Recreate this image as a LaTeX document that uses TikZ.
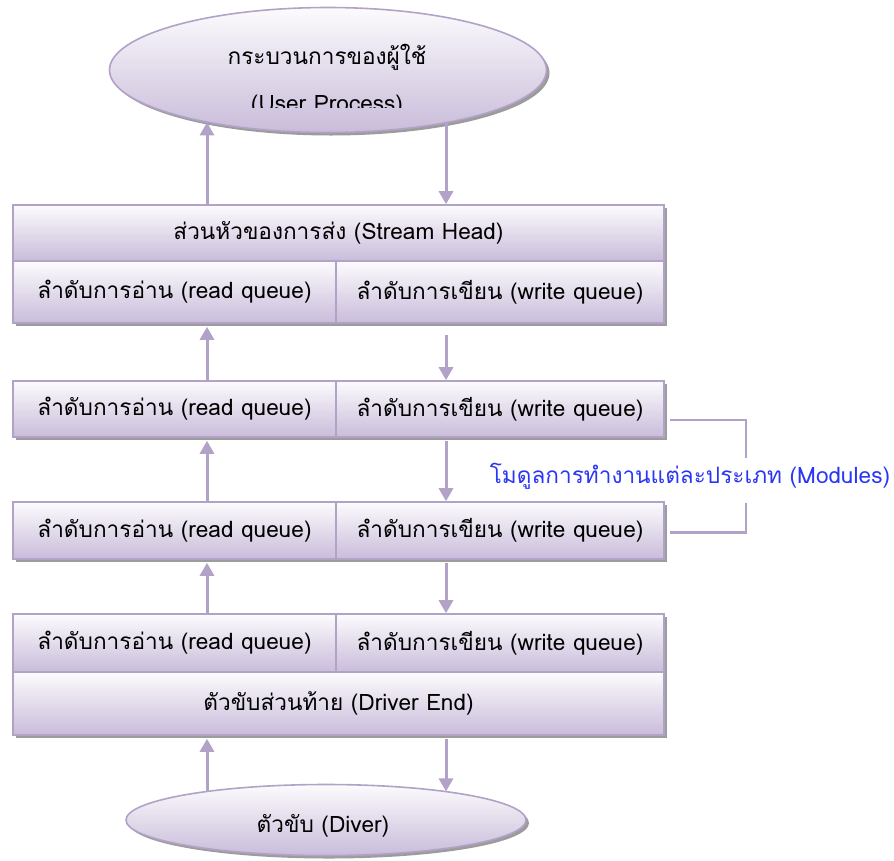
\documentclass[tikz,border=0pt]{standalone}
\usepackage{fontspec}
\usetikzlibrary{arrows.meta,shapes.geometric,shadows}
\newfontfamily\thaifont[Script=Thai]{Loma}

\definecolor{edgec}{HTML}{B3A2C7}
\definecolor{filltop}{HTML}{FCFBFD}
\definecolor{fillbot}{HTML}{C9BCDA}
\definecolor{shadowc}{HTML}{9C9C9C}
\definecolor{labelc}{HTML}{2A36F5}

\begin{document}
\begin{tikzpicture}[x=1pt,y=-1pt,
  txt/.style={font=\thaifont\fontsize{22.6}{26}\selectfont, text=black, inner sep=0pt},
  boxshadow/.style={drop shadow={shadow xshift=3pt, shadow yshift=-3pt, fill=shadowc, opacity=1}},
  cell/.style={rectangle, draw=edgec, line width=1.6pt, top color=filltop, bottom color=fillbot,
    inner sep=0pt, txt, boxshadow},
  blob/.style={ellipse, draw=edgec, line width=1.6pt, top color=filltop, bottom color=fillbot,
    inner sep=0pt, boxshadow},
  flow/.style={draw=edgec, line width=3pt, -{Triangle[length=13pt,width=14pt]}},
  bracketline/.style={draw=edgec, line width=2.4pt},
]
\useasboundingbox (0,0) rectangle (894,860);

% guide columns for the up (read) and down (write) connectors
\coordinate (ux) at (207,0);
\coordinate (dx) at (446,0);
% ends of the modules bracket around its label
\coordinate (bkup) at (746,458);
\coordinate (bkdn) at (746,503);

% user process
\node[blob, minimum width=437pt, minimum height=125pt] (user) at (328,70) {};
\node[txt] (userth) at (327,57) {กระบวนการของผู้ใช้};
\begin{scope}
  % the second line is cut off by the text frame of the shape
  \clip (100,0) rectangle (560,107);
  \node[txt, anchor=base] (useren) at (327,111) {(User Process)};
\end{scope}

% stream head
\node[cell, minimum width=651pt, minimum height=56pt] (sh) at (338.5,233) {ส่วนหัวของการส่ง (Stream Head)};
\node[cell, minimum width=323pt, minimum height=62pt] (shr) at (174.5,292) {ลำดับการอ่าน (read queue)};
\node[cell, minimum width=328pt, minimum height=62pt] (shw) at (500,292) {ลำดับการเขียน (write queue)};

% modules
\node[cell, minimum width=323pt, minimum height=56pt] (m1r) at (174.5,409) {ลำดับการอ่าน (read queue)};
\node[cell, minimum width=328pt, minimum height=56pt] (m1w) at (500,409) {ลำดับการเขียน (write queue)};
\node[cell, minimum width=323pt, minimum height=57pt] (m2r) at (174.5,530.5) {ลำดับการอ่าน (read queue)};
\node[cell, minimum width=328pt, minimum height=57pt] (m2w) at (500,530.5) {ลำดับการเขียน (write queue)};

% driver end
\node[cell, minimum width=323pt, minimum height=58pt] (der) at (174.5,643) {ลำดับการอ่าน (read queue)};
\node[cell, minimum width=328pt, minimum height=58pt] (dew) at (500,643) {ลำดับการเขียน (write queue)};
\node[cell, minimum width=651pt, minimum height=63pt] (de) at (338.5,703.5) {ตัวขับส่วนท้าย (Driver End)};

% driver
\node[blob, minimum width=400pt, minimum height=71pt] (drv) at (326,820) {};
\node[txt] (drvtxt) at (323,826) {ตัวขับ (Diver)};

% read direction (upwards)
\draw[flow] (sh.north -| ux) -- (ux |- user.203);
\draw[flow] (m1r.north -| ux) -- ([yshift=-3pt]shr.south -| ux);
\draw[flow] (m2r.north -| ux) -- ([yshift=-3pt]m1r.south -| ux);
\draw[flow] (der.north -| ux) -- ([yshift=-3pt]m2r.south -| ux);
\draw[flow] (ux |- drv.166) -- ([yshift=-3pt]de.south -| ux);

% write direction (downwards)
\draw[flow] (dx |- user.336) -- (sh.north -| dx);
\draw[flow] ([yshift=-11pt]shw.south -| dx) -- (m1w.north -| dx);
\draw[flow] ([yshift=-3pt]m1w.south -| dx) -- (m2w.north -| dx);
\draw[flow] ([yshift=-3pt]m2w.south -| dx) -- (dew.north -| dx);
\draw[flow] ([yshift=-3pt]de.south -| dx) -- (dx |- drv.13);

% modules bracket
\node[txt, text=labelc] (modlbl) at (690,476) {โมดูลการทำงานแต่ละประเภท (Modules)};
\draw[bracketline] ([xshift=5pt,yshift=-11pt]m1w.east) -| (bkup);
\draw[bracketline] (bkdn) |- ([xshift=5pt,yshift=-2pt]m2w.east);
\end{tikzpicture}
\end{document}
